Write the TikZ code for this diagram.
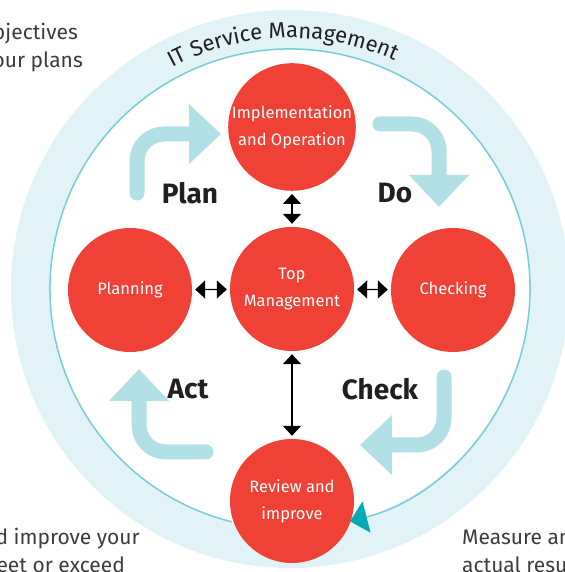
\documentclass[tikz,border=0pt]{standalone}
\usepackage{fontspec}
\setmainfont{Fira Sans}
\usepackage{tikz}
\usetikzlibrary{arrows.meta, decorations.text}
\usepackage{xcolor}
\definecolor{pdcared}{HTML}{EF4136}
\definecolor{bandblue}{HTML}{E1F3F6}
\definecolor{ringline}{HTML}{78CDD8}
\definecolor{bendblue}{HTML}{B1E0E7}
\definecolor{ringtip}{HTML}{00A9B6}
\definecolor{labelgray}{HTML}{231F20}
\definecolor{notegray}{HTML}{3C3C3C}

\begin{document}
\begin{tikzpicture}[x=1pt, y=1pt,
        stage/.style={circle, fill=pdcared, minimum size=124pt, inner sep=0pt, text=white, align=center, font=\fontsize{16.5}{27}\selectfont},
        phase/.style={text=labelgray, font=\fontsize{28}{28}\selectfont\bfseries},
        note/.style={text=notegray, inner sep=0pt, font=\fontsize{21}{28}\selectfont},
        link/.style={{Triangle[length=10pt,width=18pt]}-{Triangle[length=10pt,width=18pt]}, line width=1.4pt, shorten >=3pt, shorten <=3pt},
        cyclearrow/.style={bendblue, line width=15pt, line cap=round, rounded corners=27pt, -{Triangle[length=32pt,width=58pt]}}]
        \useasboundingbox (0,0) rectangle (564,572);
        % Band
        \fill[bandblue] (290,283) circle (279);
        \fill[white] (290,283) circle (240);
        \path[decorate, decoration={text along path, text align={fit to path}, text color=labelgray,
            text={|\fontsize{22}{22}\selectfont|IT Service Management}}]
            (290,283) ++(118:251) arc[start angle=118, end angle=65.5, radius=251];
        % Stages
        \node[stage] (impl) at (292,445) {Implementation\\and Operation};
        \node[stage] (plan) at (130,282) {Planning};
        \node[stage] (top) at (292,283) {Top\\Management};
        \node[stage] (check) at (453,282) {Checking};
        \node[stage] (review) at (292,71) {Review and\\improve};
        % Ring arrow
        \draw[ringline, line width=1.5pt, -{Triangle[length=17pt,width=32pt,color=ringtip]}]
            (290,283) ++(256:240) arc[start angle=256, end angle=-75.5, radius=240];
        % Links
        \draw[link] (impl) -- (top);
        \draw[link] (plan) -- (top);
        \draw[link] (top) -- (check);
        \draw[link] (top) -- (review);
        % Cycle arrows
        \draw[cyclearrow] (137,379) -- (137,438) -- (221,438);
        \draw[cyclearrow] (380,448) -- (439,448) -- (439,365);
        \draw[cyclearrow] (444,195) -- (444,127) -- (360,127);
        \draw[cyclearrow] (206,120) -- (139,120) -- (139,203);
        % Phases
        \node[phase] (planlabel) at (190,379) {Plan};
        \node[phase] (dolabel) at (395,379) {Do};
        \node[phase] (actlabel) at (188,183) {Act};
        \node[phase] (checklabel) at (380,183) {Check};
        % Notes
        \node[note, anchor=base east] (plannote1) at (78,532) {bjectives};
        \node[note, anchor=base east] (plannote2) at (83,504) {our plans};
        \node[note, anchor=base east] (actnote1) at (140,27) {d improve your};
        \node[note, anchor=base east] (actnote2) at (125,-1) {eet or exceed};
        \node[note, anchor=base west] (checknote1) at (462,27) {Measure an};
        \node[note, anchor=base west] (checknote2) at (462,-1) {actual resu};
    \end{tikzpicture}
\end{document}
